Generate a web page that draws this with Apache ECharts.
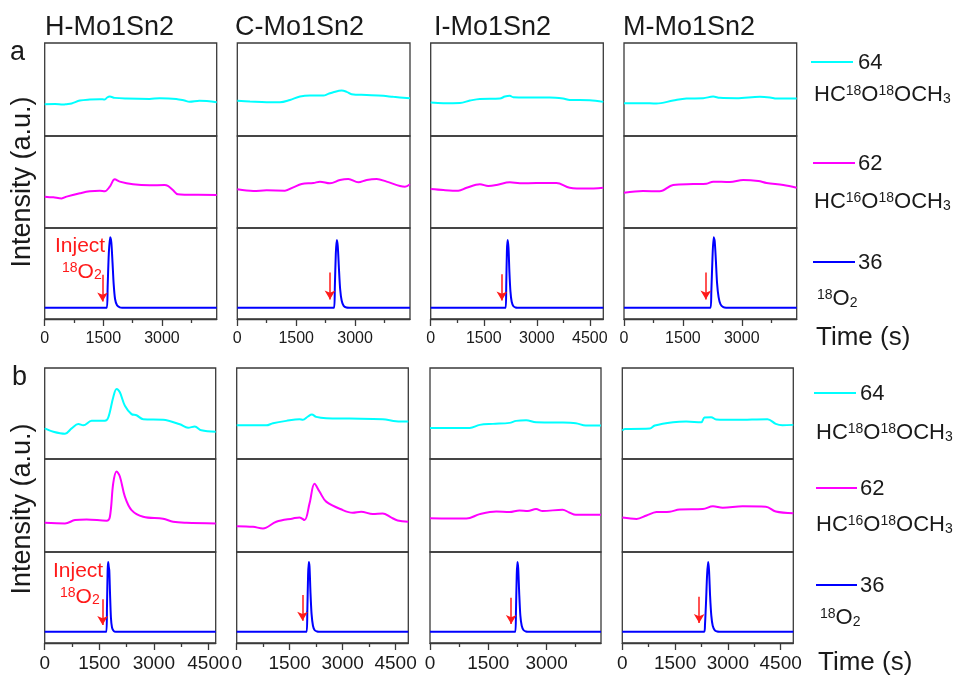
<!DOCTYPE html>
<html><head><meta charset="utf-8">
<script src="https://cdn.jsdelivr.net/npm/echarts@6.0.0/dist/echarts.min.js"></script>
<style>html,body{margin:0;padding:0;background:#fff}#c{width:969px;height:677px}</style>
</head><body><div id="c"></div><script>
// ---------------- data ----------------
const sampleNames = ['H-Mo1Sn2', 'C-Mo1Sn2', 'I-Mo1Sn2', 'M-Mo1Sn2'];
const rowLabels = ['a', 'b'];
const massNames = ['64', '62', '36'];
const timeMaxA = [4400, 4400, 4880, 4400];
const timeMaxB = [4700, 4860, 4400, 4860];
const majorTicks = [0, 1500, 3000, 4500];
const minorTicks = [750, 2250, 3750];

// row a  [time (s), intensity (a.u.)]
const aH64 = [[0,34.2],[263,34.5],[470,33.8],[560,34.2],[688,35],[900,38.1],[1155,39.2],[1410,39.6],[1537,39.2],[1597,41.4],[1665,42.4],[1792,41],[2090,40.3],[2684,39.9],[2939,40.6],[3363,39.9],[3576,38.1],[3703,36.7],[3958,37.8],[4400,36.3]];
const aH62 = [[0,34.1],[221,33.3],[433,32.2],[561,34.1],[900,37.7],[1155,39.9],[1410,40.6],[1537,39.9],[1665,44.9],[1792,52.9],[1920,50.4],[2259,47.5],[2684,46.4],[3066,46.7],[3151,45.7],[3279,41.3],[3406,36.6],[3618,36.2],[4400,35.9]];
const aH36 = [[0,12.4],[1590,12.4],[1610,35],[1640,72],[1675,89.8],[1705,84],[1735,62],[1765,38],[1800,22],[1850,15],[1920,12.8],[1980,12.4],[4400,12.4]];
const aC64 = [[0,37.8],[323,37.1],[747,36.3],[1087,36.3],[1342,38.8],[1597,42.4],[1852,43.5],[2191,43.5],[2319,45.3],[2446,47.1],[2659,48.9],[2786,47.5],[2913,45],[3296,44.2],[3720,43.2],[3975,42.1],[4400,40.6]];
const aC62 = [[0,42],[408,40.2],[747,40.9],[1215,40.6],[1427,44.2],[1639,47.8],[1937,48.9],[2106,50.4],[2361,48.6],[2616,52.2],[2829,53.3],[3083,49.6],[3296,52.2],[3551,53.3],[3805,50.4],[4145,45.7],[4272,44.9],[4400,47.5]];
const aC36 = [[0,12.4],[2465,12.4],[2485,35],[2510,72],[2535,86.9],[2560,80],[2590,55],[2620,33],[2660,20],[2710,14.5],[2780,12.6],[2850,12.4],[4400,12.4]];
const aI64 = [[0,36],[357,35.3],[827,35.6],[1110,38.1],[1392,39.9],[1956,40.3],[2097,42.4],[2238,43.2],[2332,41.7],[2708,41.4],[3366,41.4],[3742,40.3],[3931,38.8],[4495,38.5],[4880,36.7]];
const aI62 = [[0,42.4],[357,41.3],[780,40.6],[1016,43.8],[1392,47.5],[1627,45.7],[1862,46.7],[2238,49.6],[2520,48.6],[2990,48.9],[3554,48.9],[3931,43.8],[4401,42.8],[4880,43.8]];
const aI36 = [[0,12.4],[2120,12.4],[2135,35],[2155,75],[2175,86.9],[2200,78],[2225,52],[2255,30],[2290,19],[2340,14],[2400,12.6],[2450,12.4],[4880,12.4]];
const aM64 = [[0,35.3],[485,35.3],[826,34.9],[1251,38.1],[1592,40.3],[2017,40.6],[2272,42.4],[2443,41],[2868,40.6],[3464,42.1],[3719,41.4],[3889,40.3],[4400,40.3]];
const aM62 = [[0,38.4],[485,40.2],[911,39.9],[1251,46.7],[1762,47.8],[2102,48.2],[2272,50.4],[2698,50],[3038,52.2],[3421,51.1],[3634,48.9],[4060,46.7],[4400,43.8]];
const aM36 = [[0,12.4],[2205,12.4],[2225,30],[2255,68],[2285,89.8],[2310,86],[2340,65],[2370,40],[2410,24],[2460,16],[2530,13],[2600,12.4],[4400,12.4]];

// row b
const bH64 = [[0,33.7],[238,30],[558,27.8],[741,33.7],[924,38.5],[1061,37],[1289,41.9],[1655,41.9],[1747,45.6],[1884,67.8],[1975,77],[2066,73.3],[2204,58.5],[2387,49.3],[2524,48.1],[2707,43.7],[3255,43],[3712,38.1],[3941,34.4],[4124,35.6],[4307,31.5],[4700,30]];
const bH62 = [[0,31.4],[558,30.7],[832,34.3],[1152,35],[1701,33.6],[1792,37.9],[1884,74],[1975,86.6],[2066,81.2],[2204,59.6],[2387,45.1],[2707,37.9],[3255,35.7],[3530,32.5],[3895,31.4],[4700,30.7]];
const bH36 = [[0,12.4],[1695,12.4],[1712,40],[1730,80],[1745,89.1],[1760,84],[1775,80],[1795,55],[1820,28],[1850,17],[1900,13],[1950,12.4],[4700,12.4]];
const bC64 = [[0,37],[838,37],[1027,39.3],[1403,41.9],[1780,43.7],[1874,43],[2016,46.7],[2129,48.9],[2251,46.3],[2534,44.8],[3193,44.4],[4135,43.7],[4512,41.5],[4860,41.1]];
const bC62 = [[0,27.8],[462,27.1],[744,25.3],[1121,32.5],[1592,36.1],[1780,37.2],[1921,34.3],[2063,52.3],[2204,73.3],[2345,65],[2534,54.2],[3005,45.1],[3287,42.2],[3523,43.3],[3853,40.8],[4135,41.5],[4370,37.2],[4559,33.9],[4860,32.5]];
const bC36 = [[0,12.4],[1980,12.4],[2000,35],[2022,75],[2042,89.1],[2062,84],[2090,55],[2120,32],[2160,19],[2210,14],[2280,12.6],[2330,12.4],[4860,12.4]];
const bI64 = [[0,34.2],[1023,34.2],[1279,37.5],[1620,38.6],[2046,39.7],[2217,41.9],[2473,42.6],[2729,40.4],[3326,40.1],[3752,39.3],[4008,36.8],[4400,36.8]];
const bI62 = [[0,36.4],[938,36],[1279,40.7],[1705,43.6],[2046,42.9],[2302,44.7],[2516,44],[2729,46.2],[2900,44],[3411,45.5],[3582,42.5],[3752,40],[4400,40]];
const bI36 = [[0,12.4],[2195,12.4],[2212,35],[2232,75],[2250,89.1],[2270,82],[2295,55],[2325,30],[2360,19],[2410,14],[2470,12.6],[2520,12.4],[4400,12.4]];
const bM64 = [[0,31.3],[75,33.1],[217,33.1],[782,33.5],[923,36.8],[1441,40.4],[1818,41.2],[2242,40.4],[2336,45.6],[2524,46],[2666,43.4],[3231,43],[4126,43.8],[4361,38.6],[4549,37.1],[4860,37.5]];
const bM62 = [[0,37.1],[405,35.6],[688,39.3],[970,42.9],[1347,43.3],[1629,45.8],[2289,46.2],[2577,49.1],[2854,47.6],[3419,49.1],[4078,48.7],[4361,43.6],[4860,41.8]];
const bM36 = [[0,12.4],[2330,12.4],[2350,20],[2380,45],[2410,75],[2440,89.1],[2465,80],[2495,52],[2530,30],[2570,19],[2630,14],[2700,12.6],[2760,12.4],[4860,12.4]];

// injection arrows: [time, arrow top, arrow tip]
const injectA = [[1480,48.5,14.6],[2361,51.1,16.8],[2012,49.3,15.7],[2085,51.1,16.8]];
const injectB = [[1591,48,15.3],[1865,52.7,20],[2089,49.8,16.4],[2185,50.9,17.5]];

// ---------------- layout / style ----------------
const FONT = '"Liberation Sans", Arial, sans-serif';
const INK = '#1a1a1a';
const BOX = '#3a3a3a';
const lineColors = ['#00ffff', '#ff00ff', '#0000ff'];
const rowBounds = [[43,136,228,319],[368,459,552,643]];
const colLefts = [[44.7,237.3,430.7,624],[44.7,236.7,430,622.3]];
const colRights = [[216.7,410,603.3,796.7],[215.7,408.3,601,793.3]];
const labelSize = [16, 19];
const labelMargin = [12, 11];

const seriesData = [
  [[aH64,aH62,aH36],[aC64,aC62,aC36],[aI64,aI62,aI36],[aM64,aM62,aM36]],
  [[bH64,bH62,bH36],[bC64,bC62,bC36],[bI64,bI62,bI36],[bM64,bM62,bM36]]
];
const timeMax = [timeMaxA, timeMaxB];
const injects = [injectA, injectB];

const grids = [], xAxes = [], yAxes = [], series = [];
for (let r = 0; r < 2; r++) {
  for (let c = 0; c < 4; c++) {
    for (let p = 0; p < 3; p++) {
      const top = rowBounds[r][p], bottom = rowBounds[r][p + 1];
      grids.push({left: colLefts[r][c], top: top, width: colRights[r][c] - colLefts[r][c], height: bottom - top,
        show: true, borderColor: BOX, borderWidth: 1.3, backgroundColor: 'transparent', containLabel: false});
      const g = grids.length - 1;
      const xmax = timeMax[r][c];
      const isBottom = p === 2;
      const xi = xAxes.length;
      const majors = majorTicks.filter(v => v <= xmax);
      const minors = minorTicks.filter(v => v < xmax);
      xAxes.push({gridIndex: g, type: 'value', min: 0, max: xmax, interval: 1500, position: 'bottom', show: isBottom,
        axisLine: {show: isBottom, lineStyle: {color: BOX, width: 1.3}},
        axisTick: {show: isBottom, customValues: majors, length: 7, inside: false, lineStyle: {color: BOX, width: 1.3}},
        axisLabel: {show: isBottom, customValues: majors, fontSize: labelSize[r], fontFamily: FONT, color: INK, margin: labelMargin[r],
          formatter: v => String(v)},
        splitLine: {show: false}});
      if (isBottom) {
        xAxes.push({gridIndex: g, type: 'value', min: 0, max: xmax, interval: 750, position: 'bottom',
          axisLine: {show: false},
          axisTick: {show: true, customValues: minors, length: 4, lineStyle: {color: BOX, width: 1.3}},
          axisLabel: {show: false}, splitLine: {show: false}});
      }
      yAxes.push({gridIndex: g, type: 'value', min: 0, max: 100, show: false, splitLine: {show: false}});
      const s = {type: 'line', name: massNames[p], xAxisIndex: xi, yAxisIndex: g, data: seriesData[r][c][p],
        showSymbol: false, smooth: p === 2 ? 0.25 : 0.35, lineStyle: {color: lineColors[p], width: 2}, itemStyle: {color: lineColors[p]},
        silent: true};
      if (isBottom) {
        const inj = injects[r][c];
        s.markLine = {silent: true, symbol: ['none', 'arrow'], symbolSize: [8, 9], animation: false,
          label: {show: false}, lineStyle: {color: '#ff1a1a', width: 1.5, type: 'solid'},
          data: [[{coord: [inj[0], inj[1]]}, {coord: [inj[0], inj[2] + 4.5]}]]};
      }
      series.push(s);
    }
  }
}

// ---------------- text graphics ----------------
const rich = {
  n: {fontSize: 22, fontFamily: FONT, fill: INK, lineHeight: 22},
  sup: {fontSize: 14, fontFamily: FONT, fill: INK, lineHeight: 14, verticalAlign: 'top'},
  sub: {fontSize: 14, fontFamily: FONT, fill: INK, lineHeight: 6, verticalAlign: 'bottom'}
};
const richRed = {
  n: {fontSize: 21, fontFamily: FONT, fill: '#ff1a1a', lineHeight: 21},
  sup: {fontSize: 14, fontFamily: FONT, fill: '#ff1a1a', lineHeight: 14, verticalAlign: 'top'},
  sub: {fontSize: 14, fontFamily: FONT, fill: '#ff1a1a', lineHeight: 6, verticalAlign: 'bottom'}
};
function txt(x, y, text, size, opts) {
  return Object.assign({type: 'text', x: x, y: y, silent: true,
    style: {text: text, font: size + 'px ' + FONT, fill: INK, align: 'left', verticalAlign: 'middle'}}, opts || {});
}
function richTxt(x, y, text, rs) {
  return {type: 'text', x: x, y: y, silent: true,
    style: {text: text, rich: rs, font: '22px ' + FONT, fill: INK, align: 'left', verticalAlign: 'middle'}};
}
function seg(x1, x2, y, color) {
  return {type: 'line', silent: true, shape: {x1: x1, y1: y, x2: x2, y2: y}, style: {stroke: color, lineWidth: 2}};
}
const formula64 = '{n|HC}{sup|18}{n|O}{sup|18}{n|OCH}{sub|3}';
const formula62 = '{n|HC}{sup|16}{n|O}{sup|18}{n|OCH}{sub|3}';
const formula36 = '{sup|18}{n|O}{sub|2}';

const graphics = [];
const titleX = [45, 235, 434, 623];
sampleNames.forEach((t, i) => graphics.push(txt(titleX[i], 28, t, 27)));
graphics.push(txt(10, 53, rowLabels[0], 27));
graphics.push(txt(12, 378, rowLabels[1], 27));
graphics.push(txt(23, 182, 'Intensity (a.u.)', 27, {rotation: Math.PI / 2, style: {text: 'Intensity (a.u.)', font: '27px ' + FONT, fill: INK, align: 'center', verticalAlign: 'middle'}}));
graphics.push(txt(23, 509, 'Intensity (a.u.)', 27, {rotation: Math.PI / 2, style: {text: 'Intensity (a.u.)', font: '27px ' + FONT, fill: INK, align: 'center', verticalAlign: 'middle'}}));
// inject labels
graphics.push(txt(55, 246, 'Inject', 21, {style: {text: 'Inject', font: '21px ' + FONT, fill: '#ff1a1a', align: 'left', verticalAlign: 'middle'}}));
graphics.push(richTxt(62, 272, formula36, richRed));
graphics.push(txt(53, 571, 'Inject', 21, {style: {text: 'Inject', font: '21px ' + FONT, fill: '#ff1a1a', align: 'left', verticalAlign: 'middle'}}));
graphics.push(richTxt(60, 597, formula36, richRed));
// right-side legends
const legendRows = [
  {lineX: [[811,853],[813,855],[813,855]], lineY: [62,163,262], numX: 858, fX: [814,814,817], fY: [95,202,299], timeX: 816, timeY: 338},
  {lineX: [[814,856],[816,857],[816,857]], lineY: [393,488,585], numX: 860, fX: [816,816,820], fY: [433,525,618], timeX: 818, timeY: 663}
];
const formulas = [formula64, formula62, formula36];
legendRows.forEach(L => {
  for (let p = 0; p < 3; p++) {
    graphics.push(seg(L.lineX[p][0], L.lineX[p][1], L.lineY[p], lineColors[p]));
    graphics.push(txt(L.numX, L.lineY[p] + 1, massNames[p], 22));
    graphics.push(richTxt(L.fX[p], L.fY[p], formulas[p], rich));
  }
  graphics.push(txt(L.timeX, L.timeY, 'Time (s)', 26));
});

const chart = echarts.init(document.getElementById('c'), null, {renderer: 'canvas'});
chart.setOption({
  animation: false,
  backgroundColor: '#ffffff',
  grid: grids, xAxis: xAxes, yAxis: yAxes, series: series,
  graphic: {elements: graphics}
});
</script></body></html>
